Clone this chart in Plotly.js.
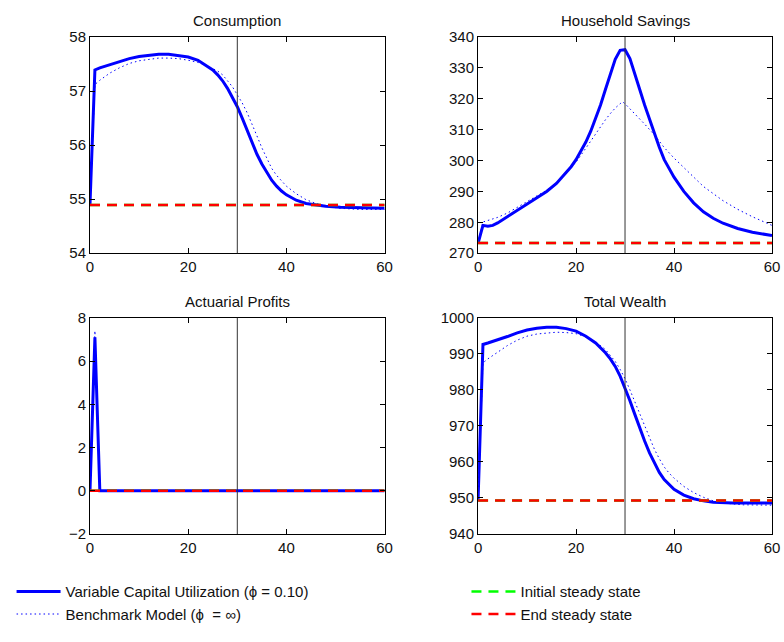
<!DOCTYPE html>
<html>
<head>
<meta charset="utf-8">
<script src="https://cdn.plot.ly/plotly-3.0.1.min.js"></script>
<style>html,body{margin:0;padding:0;background:#fff;}#chart{width:784px;height:642px;}</style>
</head>
<body>
<div id="chart"></div>
<script>
// ---------- data ----------
const switchPeriod = 30;
const xTicks = [0, 20, 40, 60];

// Consumption
const consT_vcu   = [0, 1, 2, 4, 6, 8, 10, 12, 14, 16, 18, 20, 22, 24, 25, 26, 27, 28, 29, 30, 31, 32, 33, 34, 35, 36, 37, 38, 39, 40, 42, 44, 46, 48, 51, 55, 60];
const consVCU     = [54.9, 57.39, 57.43, 57.49, 57.55, 57.60, 57.64, 57.66, 57.68, 57.68, 57.66, 57.63, 57.57, 57.46, 57.39, 57.30, 57.19, 57.05, 56.89, 56.71, 56.50, 56.27, 56.05, 55.83, 55.65, 55.49, 55.35, 55.24, 55.15, 55.08, 54.98, 54.92, 54.89, 54.87, 54.85, 54.84, 54.83];
const consT_bench = [0, 1, 2, 4, 6, 8, 10, 12, 14, 16, 18, 20, 22, 24, 26, 27, 28, 29, 30, 31, 32, 33, 34, 35, 36, 37, 38, 39, 40, 42, 44, 46, 48, 51, 55, 60];
const consBench   = [54.9, 57.12, 57.20, 57.33, 57.43, 57.51, 57.56, 57.59, 57.61, 57.61, 57.60, 57.57, 57.53, 57.46, 57.37, 57.30, 57.20, 57.08, 56.93, 56.78, 56.60, 56.40, 56.17, 55.95, 55.75, 55.57, 55.44, 55.33, 55.24, 55.10, 54.99, 54.92, 54.87, 54.83, 54.81, 54.81];
const consSS = 54.89;

// Household Savings
const savT_vcu   = [0, 1, 2, 3, 4, 6, 8, 10, 12, 14, 16, 18, 19, 20, 21, 22, 23, 24, 25, 26, 27, 28, 29, 30, 31, 32, 33, 34, 35, 36, 37, 38, 39, 40, 42, 44, 46, 48, 50, 53, 56, 60];
const savVCU     = [273.2, 279.0, 278.7, 279.0, 279.8, 281.8, 283.9, 285.8, 287.8, 290.0, 292.6, 296.0, 298.0, 300.3, 303.0, 306.0, 309.5, 313.5, 318.0, 323.0, 328.2, 332.8, 335.7, 335.9, 333.0, 328.3, 323.0, 318.0, 313.2, 308.6, 304.3, 300.3, 297.2, 294.6, 290.0, 286.3, 283.4, 281.3, 279.7, 278.0, 276.8, 275.7];
const savT_bench = [0, 1, 2, 4, 6, 8, 10, 12, 14, 16, 18, 20, 22, 24, 26, 27, 28, 29, 29.5, 30, 31, 32, 34, 36, 38, 40, 43, 46, 50, 53, 56, 60];
const savBench   = [273.2, 280.1, 280.6, 281.6, 283.0, 284.8, 286.6, 288.5, 290.4, 292.8, 296.0, 299.5, 304.0, 308.8, 313.2, 315.2, 317.0, 318.4, 319.0, 318.4, 316.8, 315.2, 311.8, 308.3, 304.2, 300.8, 296.3, 291.6, 287.0, 284.2, 281.8, 279.0];
const savSS = 273.3;

// Actuarial Profits
const profT_vcu   = [0, 1, 2, 60];
const profVCU     = [0, 7.1, 0, 0];
const profT_bench = [0, 1, 2, 60];
const profBench   = [0, 7.4, 0, 0];
const profSS = 0;

// Total Wealth
const wT_vcu   = [0, 1, 2, 4, 6, 8, 10, 12, 14, 16, 18, 20, 22, 24, 26, 27, 28, 29, 30, 31, 32, 33, 34, 35, 36, 37, 38, 39, 40, 42, 44, 46, 48, 52, 60];
const wVCU     = [949.3, 992.6, 993.0, 993.8, 994.8, 995.8, 996.6, 997.1, 997.4, 997.4, 997.0, 996.3, 994.9, 993.0, 990.3, 988.6, 986.5, 983.8, 980.6, 977.0, 973.2, 969.4, 965.8, 962.5, 959.6, 957.1, 955.1, 953.6, 952.4, 950.8, 949.8, 949.2, 948.8, 948.6, 948.6];
const wT_bench = [0, 1, 2, 4, 6, 8, 10, 12, 14, 16, 18, 20, 22, 24, 26, 28, 29, 30, 31, 32, 33, 34, 35, 36, 37, 38, 39, 40, 42, 44, 46, 48, 50, 54, 60];
const wBench   = [949.3, 987.5, 988.6, 990.5, 992.3, 993.8, 994.9, 995.5, 995.8, 996.0, 995.9, 995.6, 994.7, 993.3, 991.2, 987.9, 985.7, 983.1, 980.0, 976.6, 973.2, 969.8, 966.5, 963.5, 960.9, 958.6, 956.9, 955.5, 953.2, 951.5, 950.2, 949.2, 948.6, 948.1, 948.0];
const wSS = 949.3;

const panels = [
  {title: 'Consumption',       tv: consT_vcu, v: consVCU, tb: consT_bench, b: consBench, ss: consSS, yr: [54, 58],    dt: 1,  xa: 'x',  ya: 'y'},
  {title: 'Household Savings', tv: savT_vcu,  v: savVCU,  tb: savT_bench,  b: savBench,  ss: savSS,  yr: [270, 340],  dt: 10, xa: 'x2', ya: 'y2'},
  {title: 'Actuarial Profits', tv: profT_vcu, v: profVCU, tb: profT_bench, b: profBench, ss: profSS, yr: [-2, 8],     dt: 2,  xa: 'x3', ya: 'y3'},
  {title: 'Total Wealth',      tv: wT_vcu,    v: wVCU,    tb: wT_bench,    b: wBench,    ss: wSS,    yr: [940, 1000], dt: 10, xa: 'x4', ya: 'y4'}
];

const legendNames = ['Variable Capital Utilization (\u03D5 = 0.10)', 'Benchmark Model (\u03D5  = \u221E)', 'Initial steady state', 'End steady state'];

const blue = '#0000ff', red = '#ff0000', green = '#00ff00';
const traces = [];
panels.forEach((p, i) => {
  const first = i === 0;
  const ssX = [0, 60];
  traces.push({x: p.tv, y: p.v, xaxis: p.xa, yaxis: p.ya, mode: 'lines', name: legendNames[0],
    line: {color: blue, width: 3}, showlegend: first, legend: 'legend'});
  traces.push({x: p.tb, y: p.b, xaxis: p.xa, yaxis: p.ya, mode: 'lines', name: legendNames[1],
    line: {color: blue, width: 1, dash: '1.5px,3px'}, showlegend: first, legend: 'legend'});
  traces.push({x: ssX, y: [p.ss, p.ss], xaxis: p.xa, yaxis: p.ya, mode: 'lines', name: legendNames[2],
    line: {color: green, width: 2.5, dash: '10px,7px'}, showlegend: first, legend: 'legend2'});
  traces.push({x: ssX, y: [p.ss, p.ss], xaxis: p.xa, yaxis: p.ya, mode: 'lines', name: legendNames[3],
    line: {color: red, width: 2.5, dash: '10px,7px'}, showlegend: first, legend: 'legend2'});
});

const font = {family: 'Liberation Sans, Arial, Helvetica, sans-serif', size: 15, color: '#111'};
const axBase = {showline: true, linecolor: '#000', linewidth: 1, mirror: 'ticks', ticks: 'inside',
  ticklen: 5, tickcolor: '#000', showgrid: false, zeroline: false, tickfont: font};

const xd1 = [0, 0.432], xd2 = [0.569, 1];
const ydTop = [0.565, 1], ydBot = [0, 0.435];

const layout = {
  width: 784, height: 642,
  margin: {l: 87, r: 12, t: 37, b: 85},
  paper_bgcolor: '#fff', plot_bgcolor: '#fff',
  font: font,
  xaxis:  Object.assign({}, axBase, {domain: xd1, range: [0, 60], tickvals: xTicks, anchor: 'y'}),
  yaxis:  Object.assign({}, axBase, {domain: ydTop, range: panels[0].yr, dtick: panels[0].dt, anchor: 'x'}),
  xaxis2: Object.assign({}, axBase, {domain: xd2, range: [0, 60], tickvals: xTicks, anchor: 'y2'}),
  yaxis2: Object.assign({}, axBase, {domain: ydTop, range: panels[1].yr, dtick: panels[1].dt, anchor: 'x2'}),
  xaxis3: Object.assign({}, axBase, {domain: xd1, range: [0, 60], tickvals: xTicks, anchor: 'y3'}),
  yaxis3: Object.assign({}, axBase, {domain: ydBot, range: panels[2].yr, dtick: panels[2].dt, anchor: 'x3'}),
  xaxis4: Object.assign({}, axBase, {domain: xd2, range: [0, 60], tickvals: xTicks, anchor: 'y4'}),
  yaxis4: Object.assign({}, axBase, {domain: ydBot, range: panels[3].yr, dtick: panels[3].dt, anchor: 'x4'}),
  shapes: panels.map(p => ({type: 'line', xref: p.xa, yref: p.ya + ' domain', x0: switchPeriod, x1: switchPeriod,
    y0: 0, y1: 1, line: {color: '#333', width: 1}, layer: 'above'})),
  annotations: panels.map(p => ({text: p.title, xref: p.xa + ' domain', yref: p.ya + ' domain', x: 0.5, y: 1,
    xanchor: 'center', yanchor: 'bottom', yshift: 6, showarrow: false, font: font})),
  legend:  {x: -0.115, y: -0.083, xanchor: 'left', yanchor: 'top', bgcolor: 'rgba(0,0,0,0)', font: font, tracegroupgap: 0, itemwidth: 44},
  legend2: {x: 0.552, y: -0.083, xanchor: 'left', yanchor: 'top', bgcolor: 'rgba(0,0,0,0)', font: font, tracegroupgap: 0, itemwidth: 44}
};

Plotly.newPlot('chart', traces, layout, {staticPlot: true, displayModeBar: false});
</script>
</body>
</html>
